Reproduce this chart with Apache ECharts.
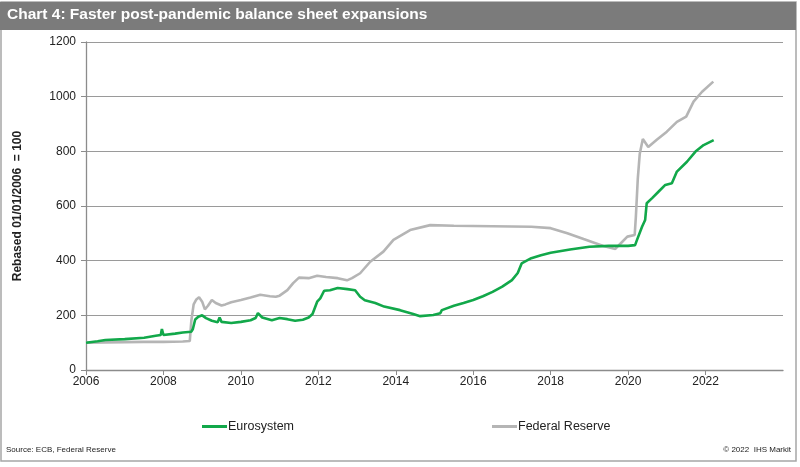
<!DOCTYPE html>
<html>
<head>
<meta charset="utf-8">
<script src="https://cdn.jsdelivr.net/npm/echarts@6/dist/echarts.min.js"></script>
<style>
html,body{margin:0;padding:0;background:#fff;}
#c{width:800px;height:467px;}
</style>
</head>
<body>
<div id="c"></div>
<script>
// Decimal-year positions and rebased values (01/01/2006 = 100)
var fedYears = [2006.0,2006.5,2007.0,2007.5,2008.0,2008.5,2008.68,2008.72,2008.78,2008.85,2008.92,2009.0,2009.07,2009.15,2009.25,2009.35,2009.5,2009.6,2009.75,2010.0,2010.25,2010.5,2010.75,2010.9,2011.0,2011.2,2011.35,2011.5,2011.75,2011.97,2012.2,2012.5,2012.74,2012.87,2013.08,2013.34,2013.68,2013.94,2014.37,2014.89,2015.5,2016.5,2017.5,2018.0,2018.43,2018.85,2019.36,2019.67,2019.8,2019.98,2020.17,2020.2,2020.25,2020.3,2020.38,2020.52,2020.74,2021.0,2021.26,2021.5,2021.69,2021.91,2022.2];
var fedValues = [100,101,102,103,103,104,106,180,240,258,266,250,222,235,256,245,236,240,248,256,265,275,270,268,272,292,318,338,336,345,340,336,328,336,354,396,433,476,512,530,528,526,524,519,500,479,454,443,462,488,494,560,700,790,845,816,842,872,908,927,982,1018,1055];

var euroYears = [2006.0,2006.3,2006.5,2007.0,2007.5,2007.8,2007.93,2007.96,2008.0,2008.3,2008.5,2008.72,2008.76,2008.82,2008.9,2009.0,2009.1,2009.25,2009.4,2009.45,2009.5,2009.75,2010.0,2010.25,2010.38,2010.44,2010.55,2010.8,2011.0,2011.2,2011.4,2011.6,2011.75,2011.85,2011.97,2012.05,2012.15,2012.3,2012.5,2012.75,2012.95,2013.08,2013.2,2013.47,2013.7,2014.11,2014.45,2014.63,2014.97,2015.15,2015.19,2015.5,2015.75,2016.0,2016.25,2016.5,2016.75,2017.0,2017.15,2017.25,2017.5,2017.75,2018.0,2018.5,2019.0,2019.5,2020.0,2020.18,2020.23,2020.36,2020.44,2020.48,2020.62,2020.79,2020.96,2021.13,2021.26,2021.52,2021.74,2021.95,2022.21];
var euroValues = [100,105,110,113,118,125,128,150,128,133,137,140,150,185,195,200,190,180,175,192,176,172,176,182,190,208,192,182,190,186,180,184,192,205,250,262,290,292,300,296,292,268,255,245,232,219,205,197,201,208,219,235,245,256,270,286,305,329,355,390,409,420,429,441,451,454,454,457,476,524,549,610,629,653,677,683,726,762,799,823,841];

var xTicks = [2006,2008,2010,2012,2014,2016,2018,2020,2022];

function pairs(xs, ys){ return xs.map(function(x,i){ return [x, ys[i]]; }); }

var legendCommon = {
  bottom:29, itemWidth:25, itemHeight:3, icon:'rect', itemGap:0,
  textStyle:{fontSize:12.5, color:'#222', padding:[0,0,0,-4]}
};

var chart = echarts.init(document.getElementById('c'));
chart.setOption({
  animation:false,
  backgroundColor:'#fff',
  textStyle:{fontFamily:'Liberation Sans, Arial, sans-serif'},
  graphic:[
    {type:'rect', shape:{x:1,y:2,width:795,height:459}, style:{fill:'none',stroke:'#a6a6a6',lineWidth:1.5}, z:-1},
    {type:'rect', shape:{x:0,y:2,width:796,height:28}, style:{fill:'#7b7b7b'}},
    {type:'text', left:7, top:7, style:{text:'Chart 4: Faster post-pandemic balance sheet expansions', fill:'#fff', font:'bold 15.5px Liberation Sans, Arial, sans-serif'}},
    {type:'text', left:6, top:446, style:{text:'Source: ECB, Federal Reserve', fill:'#222', font:'8px Liberation Sans, Arial, sans-serif'}},
    {type:'text', right:9, top:446, style:{text:'\u00a9 2022  IHS Markit', fill:'#222', font:'8px Liberation Sans, Arial, sans-serif'}}
  ],
  grid:{left:86, right:17, top:42, bottom:97},
  legend:[
    Object.assign({data:['Eurosystem'], left:197}, legendCommon),
    Object.assign({data:['Federal Reserve'], left:487}, legendCommon)
  ],
  xAxis:{
    type:'value', min:2006, max:2024, interval:2,
    axisLine:{lineStyle:{color:'#8c8c8c', width:1.3}},
    axisTick:{show:true, length:5, inside:false, lineStyle:{color:'#8c8c8c'}},
    axisLabel:{color:'#222', fontSize:12, margin:6, showMaxLabel:false,
      formatter:function(v){ return xTicks.indexOf(v) >= 0 ? String(v) : ''; }},
    splitLine:{show:false}
  },
  yAxis:{
    type:'value', min:0, max:1200, interval:200,
    name:'Rebased 01/01/2006  = 100', nameLocation:'middle', nameGap:62,
    nameTextStyle:{fontSize:12, fontWeight:'bold', color:'#222'},
    axisLine:{show:true, lineStyle:{color:'#8c8c8c', width:1.3}},
    axisTick:{show:true, length:5, lineStyle:{color:'#8c8c8c'}},
    axisLabel:{color:'#222', fontSize:12, margin:10, formatter:function(v){ return String(v); }},
    splitLine:{show:true, lineStyle:{color:'#9a9a9a', width:1.2}}
  },
  series:[
    {name:'Eurosystem', type:'line', data:pairs(euroYears, euroValues), showSymbol:false, symbol:'none',
     lineStyle:{color:'#12a84a', width:2.6}, itemStyle:{color:'#12a84a'}, z:3},
    {name:'Federal Reserve', type:'line', data:pairs(fedYears, fedValues), showSymbol:false, symbol:'none',
     lineStyle:{color:'#b5b5b5', width:2.6}, itemStyle:{color:'#b5b5b5'}, z:2}
  ]
});
</script>
</body>
</html>
